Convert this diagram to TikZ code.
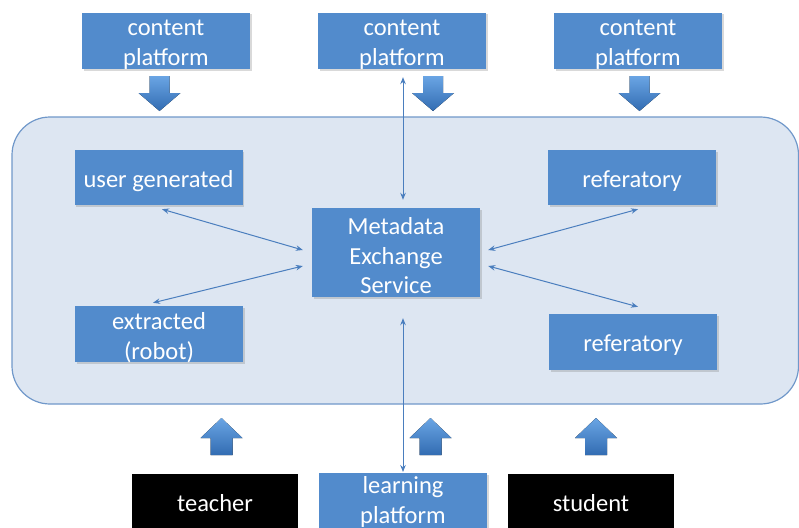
\documentclass[tikz,border=0pt]{standalone}
\usepackage{fontspec}
\setmainfont{Carlito}
\usetikzlibrary{shadows,calc,arrows.meta}
\definecolor{boxblue}{RGB}{82,139,204}
\definecolor{contfill}{RGB}{221,230,242}
\definecolor{contline}{RGB}{112,152,202}
\definecolor{linkblue}{RGB}{74,126,190}
\definecolor{fattop}{RGB}{106,165,228}
\definecolor{fatbot}{RGB}{50,108,178}
\newcommand\fatdown[2]{%
  \fill[fatarrow] (#1-10,#2) -- (#1+10,#2) -- (#1+10,#2+17) -- (#1+21,#2+17)
    -- (#1,#2+35) -- (#1-21,#2+17) -- (#1-10,#2+17) -- cycle;}
\newcommand\fatup[2]{%
  \fill[fatarrow] (#1-11,#2+37) -- (#1+11,#2+37) -- (#1+11,#2+20) -- (#1+21,#2+20)
    -- (#1,#2) -- (#1-21,#2+20) -- (#1-11,#2+20) -- cycle;}
\begin{document}
\begin{tikzpicture}[x=1pt,y=-1pt,
  every node/.style={font=\fontsize{24.5}{29.5}\selectfont, text=white, align=center, inner sep=0pt},
  bluebox/.style={fill=boxblue, minimum width=168pt, drop shadow={shadow xshift=1.5pt, shadow yshift=-1.5pt, opacity=0.3}},
  blackbox/.style={fill=black, minimum width=166pt},
  txt/.style={yshift=-3.5pt},
  container/.style={fill=contfill, draw=contline, line width=1.2pt, rounded corners=38pt},
  link/.style={draw=linkblue, line width=1pt, {Stealth[length=7pt,width=5.5pt]}-{Stealth[length=7pt,width=5.5pt]}},
  fatarrow/.style={top color=fattop, bottom color=fatbot}
]
\useasboundingbox (0,0) rectangle (799,527);
\clip (0,0) rectangle (799,527);

% container
\path[container] (12,117) rectangle (798.5,404);

% top content platforms
\node[bluebox, minimum height=56pt] (cp1) at (166,41) {};
\node[txt] (cp1t) at (cp1) {content\\platform};
\node[bluebox, minimum height=56pt] (cp2) at (402,41) {};
\node[txt] (cp2t) at (cp2) {content\\platform};
\node[bluebox, minimum height=56pt] (cp3) at (638,41) {};
\node[txt] (cp3t) at (cp3) {content\\platform};

% fat arrows top
\fatdown{159.5}{76}
\fatdown{433}{76}
\fatdown{639.5}{76}

% inner boxes
\node[bluebox, minimum height=55pt] (ug) at (158.5,177.5) {};
\node[txt] (ugt) at (ug) {user generated};
\node[bluebox, minimum height=56pt] (ex) at (159,334) {};
\node[txt] (ext) at (ex) {extracted\\(robot)};
\node[bluebox, minimum height=55pt] (rf1) at (632,177.5) {};
\node[txt] (rf1t) at (rf1) {referatory};
\node[bluebox, minimum height=56pt] (rf2) at (633,342) {};
\node[txt] (rf2t) at (rf2) {referatory};
\node[bluebox, minimum height=89pt] (mx) at (396,252.5) {};
\node[txt] (mxt) at (mx) {Metadata\\Exchange\\Service};

% thin links
\draw[link] ($(ug.south)+(3.5,4)$) -- ($(mx.west)+(-9,-2.5)$);
\draw[link] ($(ex.north)+(-6,-3)$) -- ($(mx.west)+(-9,13.5)$);
\draw[link] ($(rf1.south)+(6,4)$) -- ($(mx.east)+(8,-2.5)$);
\draw[link] ($(rf2.north)+(5,-7)$) -- ($(mx.east)+(8,13.5)$);
\draw[link] ($(cp2.south)+(1,8)$) -- ($(mx.north)+(7,-8)$);

% bottom boxes
\node[blackbox, minimum height=70pt, anchor=north] (tc) at (215,474) {};
\node (tct) at (215,503) {teacher};
\node[bluebox, minimum height=70pt, anchor=north] (lp) at (403,473) {};
\node (lpt) at (403,502) {learning\\platform};
\node[blackbox, minimum height=70pt, anchor=north] (st) at (591,474) {};
\node (stt) at (591,503) {student};

\draw[link] ($(mx.south)+(7,21)$) -- ($(lp.north)+(0,-1)$);

% fat arrows bottom
\fatup{221.5}{418}
\fatup{430.5}{418}
\fatup{596}{418}
\end{tikzpicture}
\end{document}
